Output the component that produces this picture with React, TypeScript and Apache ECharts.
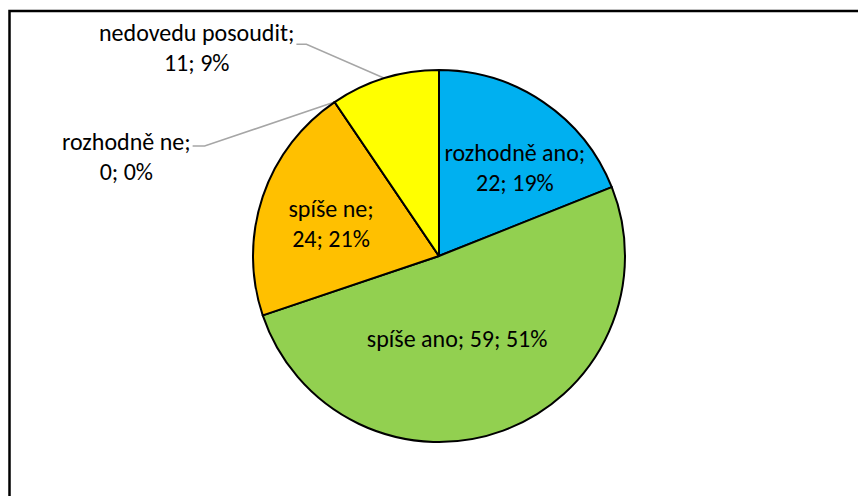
import React, { useEffect, useRef } from "react";
import * as echarts from "echarts";

const categories = ["rozhodně ano", "spíše ano", "spíše ne", "rozhodně ne", "nedovedu posoudit"];
const values = [22, 59, 24, 0, 11];
const colors = ["#00B0F0", "#92D050", "#FFC000", "#FF0000", "#FFFF00"];
const labelInside = [true, true, true, false, false];
const labelOneLine = [false, true, false, false, false];

// label placement tweaks (px, relative to library-computed positions)
const insideShift: number[][] = [[22, -9], [-15, -8], [-17, -2], [0, 0], [0, 0]];
const outsideLeader: Record<number, { bend: number[]; end: number[]; labelDy: number }> = {
  3: { bend: [-130, 44], end: [-142, 44], labelDy: 54 },
  4: { bend: [-78, -34], end: [-88, -34], labelDy: -31 },
};

const FONT = "Carlito, Lato, sans-serif";

export default function App() {
  const ref = useRef<HTMLDivElement>(null);
  useEffect(() => {
    if (!ref.current) return;
    const chart = echarts.init(ref.current, undefined, { renderer: "svg" });
    const data = categories.map((name, i) => ({
      name,
      value: values[i],
      itemStyle: { color: colors[i] },
      label: {
        position: labelInside[i] ? "inside" : "outside",
        formatter: labelOneLine[i] ? "{b}; {c}; {d}%" : "{b};\n{c}; {d}%",
      },
      labelLine: { show: !labelInside[i] },
    }));
    chart.setOption({
      animation: false,
      backgroundColor: "#fff",
      graphic: [
        {
          type: "rect",
          shape: { x: 9.5, y: 11, width: 880, height: 600 },
          style: { fill: "none", stroke: "#000", lineWidth: 2.5 },
        },
      ],
      series: [
        {
          type: "pie",
          center: [439, 256],
          radius: 186,
          startAngle: 90,
          clockwise: true,
          avoidLabelOverlap: false,
          percentPrecision: 0,
          itemStyle: { borderColor: "#000", borderWidth: 2 },
          label: {
            color: "#000",
            fontFamily: FONT,
            fontSize: 24,
            lineHeight: 30,
            align: "center",
          },
          labelLine: { lineStyle: { color: "#A6A6A6", width: 1.5 } },
          emphasis: { disabled: true },
          labelLayout: (p: any) => {
            const i = p.dataIndex;
            if (labelInside[i]) return { dx: insideShift[i][0], dy: insideShift[i][1] };
            const lp = p.labelLinePoints;
            const g = outsideLeader[i];
            if (!lp || !g) return {};
            const a = lp[0];
            const end = [a[0] + g.end[0], a[1] + g.end[1]];
            return {
              x: end[0] - 2 - p.labelRect.width / 2,
              y: a[1] + g.labelDy,
              align: "center",
              verticalAlign: "middle",
              labelLinePoints: [a, [a[0] + g.bend[0], a[1] + g.bend[1]], end],
            };
          },
          data,
        },
      ],
    });
    return () => chart.dispose();
  }, []);
  return (
    <div
      ref={ref}
      style={{ position: "absolute", left: 0, top: 0, width: 858, height: 496, background: "#fff" }}
    />
  );
}
